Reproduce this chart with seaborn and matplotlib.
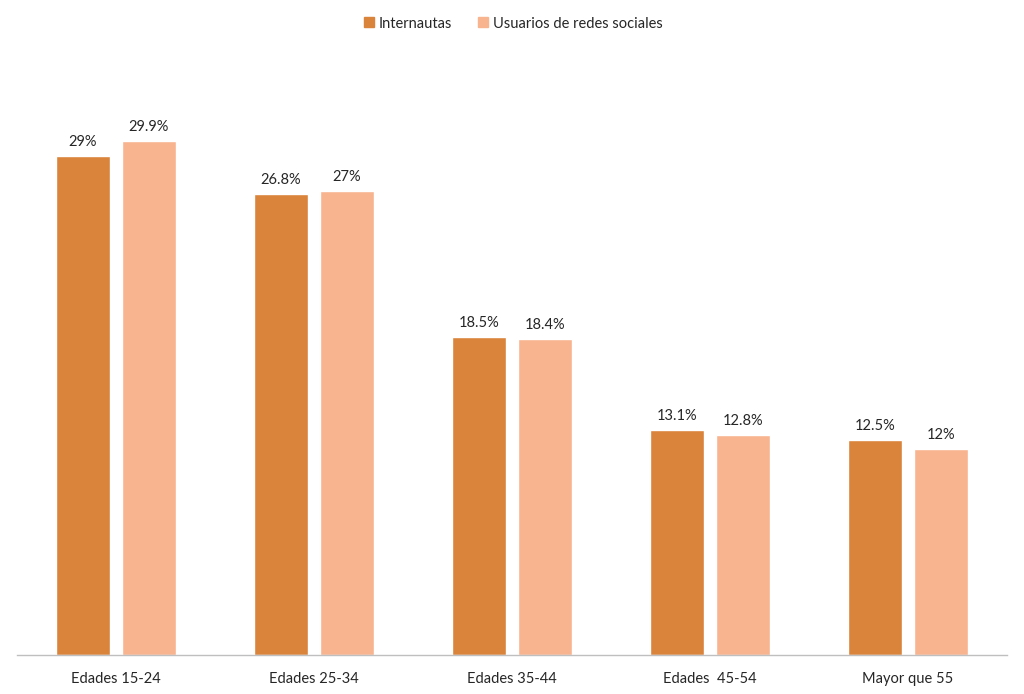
import matplotlib
matplotlib.use("Agg")
import matplotlib.pyplot as plt
import pandas as pd
import seaborn as sns

# data
categories = ["Edades 15-24", "Edades 25-34", "Edades 35-44", "Edades  45-54", "Mayor que 55"]
internautas = [29, 26.8, 18.5, 13.1, 12.5]
redes = [29.9, 27, 18.4, 12.8, 12]
series = ["Internautas", "Usuarios de redes sociales"]
colors = ["#DA833B", "#F8B48F"]

df = pd.DataFrame({
    "cat": categories * 2,
    "val": internautas + redes,
    "serie": [series[0]] * 5 + [series[1]] * 5,
})

sns.set_theme(style="white")
plt.rcParams["font.family"] = ["Lato", "DejaVu Sans"]

fig = plt.figure(figsize=(10.24, 6.94), dpi=100)
ax = fig.add_axes([0.0166, 0.0562, 0.9666, 0.872])

sns.barplot(data=df, x="cat", y="val", hue="serie", palette=colors,
            width=0.667, gap=0.19, saturation=1, ax=ax, legend=False)

for cont in ax.containers:
    labs = [f"{v:g}%" for v in cont.datavalues]
    ax.bar_label(cont, labels=labs, padding=5, fontsize=10.5, color="#262626")

ax.set_ylim(0, 35.2)
ax.set_xlim(-0.5, 4.5)
ax.set_xlabel("")
ax.set_ylabel("")
ax.set_yticks([])
for s in ["left", "right", "top"]:
    ax.spines[s].set_visible(False)
ax.spines["bottom"].set_color("#BFBFBF")
ax.spines["bottom"].set_linewidth(1)
ax.tick_params(axis="x", length=0, pad=12, labelsize=10.5, labelcolor="#262626")

handles = [plt.Line2D([], [], marker="s", linestyle="", markersize=6.5,
                      color=c) for c in colors]
fig.legend(handles, series, loc="center", bbox_to_anchor=(0.5, 0.966),
           ncol=2, frameon=False, fontsize=10.5, handletextpad=0.2,
           handlelength=1.0, columnspacing=1.6, labelcolor="#262626")

fig.savefig("out.png", dpi=100)
